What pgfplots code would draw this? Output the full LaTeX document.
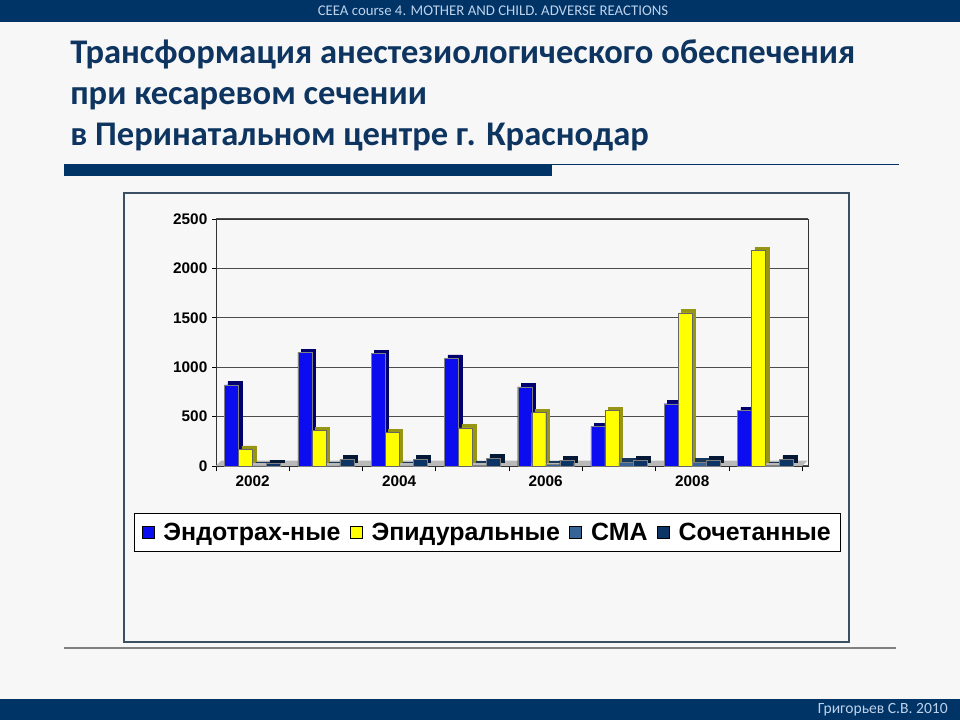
\documentclass[border=0pt]{standalone}
\usepackage{fontspec}
\setmainfont{Liberation Sans}
\newfontfamily\calibri{Carlito}
\usepackage{pgfplots}
\pgfplotsset{compat=1.18}
\definecolor{navy}{RGB}{0,51,102}
\definecolor{titlec}{RGB}{14,52,96}
\definecolor{hdrtext}{RGB}{190,210,235}
\definecolor{slidebg}{RGB}{247,247,247}
\definecolor{framec}{RGB}{60,80,100}
\definecolor{cblue}{RGB}{12,12,240}
\definecolor{cbluedk}{RGB}{0,0,110}
\definecolor{cyel}{RGB}{255,255,0}
\definecolor{cyeldk}{RGB}{150,150,20}
\definecolor{csma}{RGB}{55,100,150}
\definecolor{csmadk}{RGB}{25,55,90}
\definecolor{csoch}{RGB}{12,52,100}
\definecolor{csochdk}{RGB}{5,25,55}
\begin{document}
\begin{tikzpicture}
\begin{scope}[x=0.75pt,y=-0.75pt,yshift=540pt]
  \useasboundingbox (0,0) rectangle (960,720);
  \fill[slidebg] (0,0) rectangle (960,720);
  \fill[navy] (0,0) rectangle (960,22);
  \node[text=hdrtext, font=\calibri\fontsize{11.1}{12}\selectfont, inner sep=0pt] at (493,11) {CEEA course 4. MOTHER AND CHILD. ADVERSE REACTIONS};
  \node[anchor=base west, text=titlec, font=\calibri\bfseries\fontsize{25.9}{30}\selectfont, inner sep=0pt] at (70,64) {Трансформация анестезиологического обеспечения};
  \node[anchor=base west, text=titlec, font=\calibri\bfseries\fontsize{25.9}{30}\selectfont, inner sep=0pt] at (70,105) {при кесаревом сечении};
  \node[anchor=base west, text=titlec, font=\calibri\bfseries\fontsize{25.9}{30}\selectfont, inner sep=0pt] at (70,146) {в Перинатальном центре г. Краснодар};
  \fill[navy] (64,164) rectangle (552,176);
  \draw[navy, line width=0.9pt] (552,164.5) -- (899,164.5);
  \draw[framec, line width=0.9pt] (124,193) rectangle (849,642);
  \draw[gray, line width=0.8pt] (64,648) -- (896,648);
  \fill[navy] (0,699) rectangle (960,720);
  \node[anchor=east, text=hdrtext, font=\calibri\fontsize{11.7}{13}\selectfont, inner sep=0pt] at (948,710) {Григорьев С.В. 2010};
\end{scope}
\begin{axis}[
  at={(162pt,190.5pt)}, anchor=south west,
  scale only axis, width=444pt, height=185.25pt,
  xmin=-0.5, xmax=7.58, ymin=0, ymax=2500,
  clip=false,
  axis line style={black!80, line width=0.6pt},
  ymajorgrids, grid style={black!70, line width=0.8pt},
  ytick={0,500,...,2500},
  tick align=outside, tick pos=left,
  ytick style={black, line width=0.5pt},
  major tick length=3pt,
  xtick={0,...,7},
  xticklabels={2002,,2004,,2006,,2008,},
  major x tick style={draw=none},
  minor xtick={-0.5,0.5,...,7.5},
  minor x tick style={black, line width=0.5pt},
  minor tick length=4pt,
  /pgf/number format/assume math mode=true,
  /pgf/number format/1000 sep={},
  yticklabel style={font=\bfseries\fontsize{11.5}{13}\selectfont},
  xticklabel style={font=\bfseries\fontsize{11.5}{13}\selectfont, yshift=-1pt},
  legend style={at={(0.4586,-0.19)}, anchor=north, legend columns=-1,
    draw=black, line width=0.8pt, fill=white, inner xsep=5pt, inner ysep=5pt,
    font=\bfseries\fontsize{18.7}{22}\selectfont,
    /tikz/every even column/.append style={column sep=5pt},
    /tikz/every odd column/.append style={column sep=5pt}},
  legend image code/.code={\draw[#1, draw=black, line width=0.4pt] (0pt,-4.5pt) rectangle (9pt,4.5pt);},
]
\fill[gray!55] (axis cs:-0.5,0) -- (axis cs:7.5,0) -- ([shift={(4pt,4pt)}]axis cs:7.5,0) -- ([shift={(4pt,4pt)}]axis cs:-0.5,0) -- cycle;
% Endotracheal
\addplot[ybar, bar width=10.5pt, bar shift=-15.75pt, fill=cbluedk, draw=cbluedk, xshift=2.5pt, yshift=2.5pt, forget plot] coordinates {(0,820) (1,1150) (2,1140) (3,1090) (4,800) (5,400) (6,630) (7,560)};
\addplot[ybar, bar width=10.5pt, bar shift=-15.75pt, fill=cblue, draw=black!50, line width=0.3pt] coordinates {(0,820) (1,1150) (2,1140) (3,1090) (4,800) (5,400) (6,630) (7,560)};
% Epidural
\addplot[ybar, bar width=10.5pt, bar shift=-5.25pt, fill=cyeldk, draw=cyeldk, xshift=2.5pt, yshift=2.5pt, forget plot] coordinates {(0,170) (1,360) (2,340) (3,385) (4,540) (5,560) (6,1550) (7,2180)};
\addplot[ybar, bar width=10.5pt, bar shift=-5.25pt, fill=cyel, draw=black!60, line width=0.3pt] coordinates {(0,170) (1,360) (2,340) (3,385) (4,540) (5,560) (6,1550) (7,2180)};
% SMA
\addplot[ybar, bar width=10.5pt, bar shift=5.25pt, fill=csmadk, draw=csmadk, xshift=2.5pt, yshift=2.5pt, forget plot] coordinates {(0,0) (1,0) (2,0) (3,10) (4,15) (5,40) (6,40) (7,5)};
\addplot[ybar, bar width=10.5pt, bar shift=5.25pt, fill=csma, draw=black!50, line width=0.3pt] coordinates {(0,0) (1,0) (2,0) (3,10) (4,15) (5,40) (6,40) (7,5)};
% Combined
\addplot[ybar, bar width=10.5pt, bar shift=15.75pt, fill=csochdk, draw=csochdk, xshift=2.5pt, yshift=2.5pt, forget plot] coordinates {(0,25) (1,70) (2,70) (3,80) (4,60) (5,60) (6,60) (7,70)};
\addplot[ybar, bar width=10.5pt, bar shift=15.75pt, fill=csoch, draw=black!50, line width=0.3pt] coordinates {(0,25) (1,70) (2,70) (3,80) (4,60) (5,60) (6,60) (7,70)};
\legend{Эндотрах-ные, Эпидуральные, СМА, Сочетанные}
\end{axis}
\end{tikzpicture}
\end{document}
